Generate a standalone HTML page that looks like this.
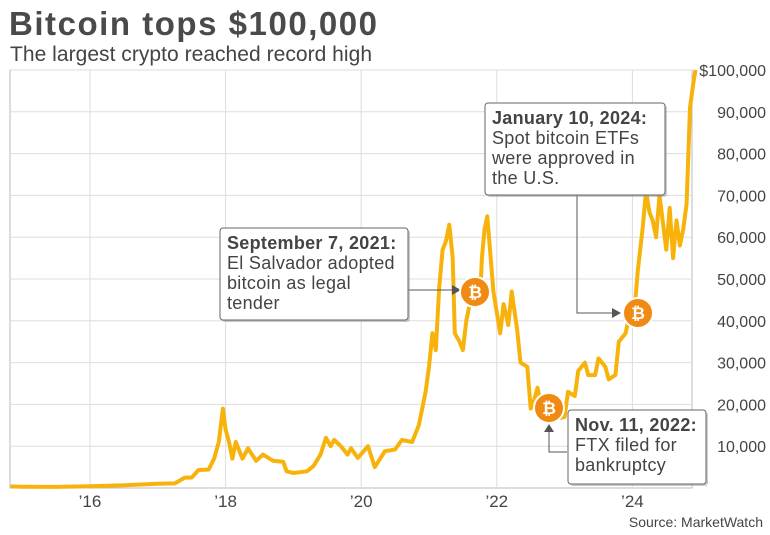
<!DOCTYPE html>
<html><head><meta charset="utf-8"><style>
body{margin:0;background:#fff;font-family:"Liberation Sans",sans-serif}
svg{display:block}
</style></head><body>
<svg id="c" width="770" height="535" xmlns="http://www.w3.org/2000/svg">
<text x="9" y="35" font-size="33" font-weight="bold" fill="#4a4a4a" textLength="368">Bitcoin tops $100,000</text>
<text x="10" y="61" font-size="21" fill="#444" textLength="362">The largest crypto reached record high</text>
<g id="grid"></g>
<path id="line" fill="none" stroke="#f7b30c" stroke-width="4" stroke-linejoin="round"/>
<g id="ann"></g>
<text x="763" y="527" font-size="14" text-anchor="end" fill="#444">Source: MarketWatch</text>
</svg>
<script>
const years=[2016,2018,2020,2022,2024];
const yearLabels=["’16","’18","’20","’22","’24"];
const yTicks=[10000,20000,30000,40000,50000,60000,70000,80000,90000,100000];
const yTickLabels=["10,000","20,000","30,000","40,000","50,000","60,000","70,000","80,000","90,000","$100,000"];
const dates=[2014.83,2015,2015.5,2016,2016.5,2017,2017.25,2017.4,2017.5,2017.6,2017.75,2017.83,2017.9,2017.96,2018.0,2018.05,2018.1,2018.15,2018.25,2018.33,2018.45,2018.55,2018.7,2018.85,2018.9,2019.0,2019.2,2019.3,2019.4,2019.48,2019.55,2019.6,2019.7,2019.8,2019.85,2019.95,2020.1,2020.2,2020.35,2020.5,2020.6,2020.75,2020.85,2020.95,2021.0,2021.05,2021.1,2021.15,2021.2,2021.25,2021.3,2021.35,2021.38,2021.45,2021.5,2021.55,2021.65,2021.7,2021.75,2021.78,2021.82,2021.86,2021.9,2021.95,2022.0,2022.05,2022.1,2022.17,2022.22,2022.3,2022.35,2022.45,2022.5,2022.55,2022.6,2022.65,2022.75,2022.8,2022.86,2022.95,2023.0,2023.05,2023.15,2023.2,2023.3,2023.35,2023.45,2023.5,2023.6,2023.65,2023.75,2023.8,2023.9,2023.98,2024.03,2024.08,2024.15,2024.2,2024.25,2024.3,2024.35,2024.4,2024.5,2024.55,2024.6,2024.65,2024.7,2024.75,2024.8,2024.85,2024.9,2024.93];
const prices=[380,300,260,430,650,1000,1100,2500,2500,4300,4400,7000,11000,19000,14000,11000,7000,11000,7000,9500,6500,8000,6500,6300,4000,3600,4000,5300,8000,12000,10000,11500,10000,8000,9500,7200,10000,5000,8800,9200,11500,11000,15000,23000,29000,37000,33000,48000,57000,59000,63000,55000,37000,35000,33000,40000,48000,45000,44000,55000,62000,65000,57000,47000,42000,37000,44000,39000,47000,38000,30000,29000,19000,21000,24000,20000,19500,20500,16500,16800,17000,23000,22000,28000,30000,27000,27000,31000,29000,26000,27000,35000,37000,43000,42000,52000,62000,71000,66000,64000,60000,70000,57000,67000,55000,64000,58000,62000,68000,91000,97000,100000];
const X=t=>90+(t-2016)*67.8, Y=v=>488-v*0.00418;
const NS="http://www.w3.org/2000/svg";
const g=document.getElementById('grid');
function mk(tag,a,parent){const e=document.createElementNS(NS,tag);for(const k in a)e.setAttribute(k,a[k]);parent.appendChild(e);return e;}
const frame=mk('rect',{x:10,y:70,width:682,height:418,fill:'none',stroke:'#bbb'},g);


yTicks.forEach((v,i)=>{const l=mk('line',{x1:10,x2:692,y1:Y(v),y2:Y(v),stroke:'#ddd'},g);


const t=mk('text',{x:766,y:Y(v)+6,'font-size':16,fill:'#444','text-anchor':'end'},g);t.textContent=yTickLabels[i];

});
years.forEach((yr,i)=>{const l=mk('line',{x1:X(yr),x2:X(yr),y1:70,y2:488,stroke:'#ddd'},g);


const t=mk('text',{x:X(yr),y:507,'font-size':17,fill:'#444','text-anchor':'middle'},g);t.textContent=yearLabels[i];

});
document.getElementById('line').setAttribute('d',dates.map((d,i)=>(i?'L':'M')+X(d).toFixed(1)+','+Y(prices[i]).toFixed(1)).join(''));
const a=document.getElementById('ann');
function box(x,y,w,h,lines,name){const gg=mk('g',{},a);


mk('rect',{x:x+2,y:y+2,width:w,height:h,rx:3,fill:'#999',opacity:.5},gg);
mk('rect',{x:x,y:y,width:w,height:h,rx:3,fill:'#fff',stroke:'#666'},gg);
lines.forEach((s,i)=>{const t=mk('text',{x:x+7,y:y+21+i*20,'font-size':18,fill:'#444','font-weight':i==0?'bold':'normal','letter-spacing':0.3},gg);t.textContent=s;});}
function coin(x,y,name){const gg=mk('g',{},a);


mk('circle',{cx:x,cy:y,r:15,fill:'#f08a12',stroke:'#fff','stroke-width':2},gg);
const t=mk('text',{x:x,y:y+6,'font-size':17,'font-weight':'bold',fill:'#fff','text-anchor':'middle'},gg);t.textContent='₿';}
mk('path',{d:'M408,290 H452',stroke:'#555',fill:'none'},a);mk('path',{d:'M452,285 L461,290 L452,295Z',fill:'#555'},a);
mk('path',{d:'M577,195 V313 H612',stroke:'#555',fill:'none'},a);mk('path',{d:'M612,308 L621,313 L612,318Z',fill:'#555'},a);
mk('path',{d:'M567,452 H549 V432',stroke:'#555',fill:'none'},a);mk('path',{d:'M544,432 L549,424 L554,432Z',fill:'#555'},a);
box(220,228,188,92,["September 7, 2021:","El Salvador adopted","bitcoin as legal","tender"],'annotation-el-salvador');
box(485,103,180,92,["January 10, 2024:","Spot bitcoin ETFs","were approved in","the U.S."],'annotation-etf');
box(568,410,138,74,["Nov. 11, 2022:","FTX filed for","bankruptcy"],'annotation-ftx');
coin(475,292,'coin-marker-2021');coin(638,313,'coin-marker-2024');coin(549,408,'coin-marker-2022');
</script>
</body></html>
